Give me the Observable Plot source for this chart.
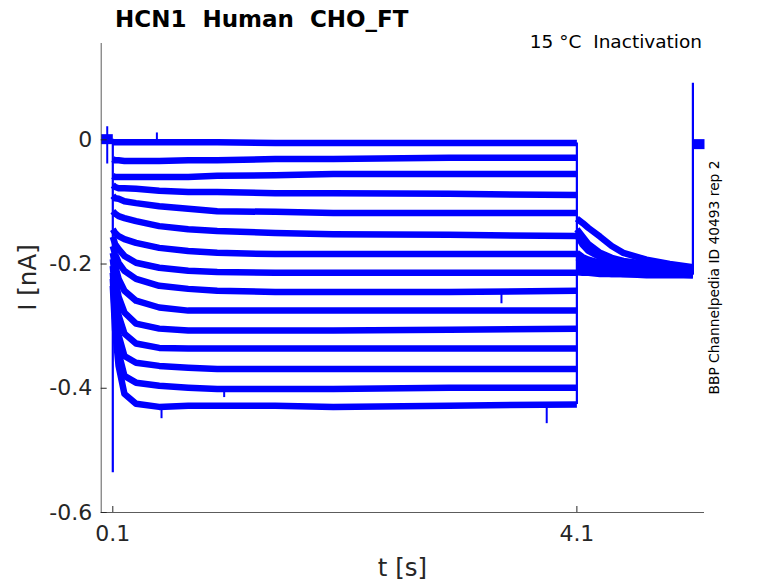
<!DOCTYPE html>
<html><head><meta charset="utf-8">
<script src="https://cdn.jsdelivr.net/npm/d3@7"></script>
<script src="https://cdn.jsdelivr.net/npm/@observablehq/plot@0.6"></script>
<style>body{margin:0;background:#fff} #chart{width:778px;height:583px}</style>
</head><body><div id="chart"></div>
<script>
// ---- axes ----
const xDomain = [0, 5.2];
const yDomain = [-0.6, 0.155];
const xTicks = [0.1, 4.1];
const yTicks = [0, -0.2, -0.4, -0.6];

// ---- holding before the prepulse (all sweeps overlap) ----
const holdPreTimes = [0, 0.1];
const holdPreCurrent = [0.001, 0.001];

// ---- prepulse (0.1 s to 4.1 s), one row per sweep ----
const stepTimes = [0.1, 0.12, 0.15, 0.2, 0.3, 0.5, 0.75, 1.0, 1.5, 2.0, 3.0, 4.1];
const stepCurrents = [
  [-0.004,-0.004,-0.004,-0.004,-0.004,-0.004,-0.004,-0.004,-0.005,-0.005,-0.005,-0.005],
  [-0.031,-0.033,-0.033,-0.034,-0.034,-0.034,-0.033,-0.033,-0.031,-0.031,-0.029,-0.029],
  [-0.058,-0.060,-0.060,-0.060,-0.060,-0.060,-0.060,-0.058,-0.057,-0.055,-0.055,-0.055],
  [-0.073,-0.076,-0.078,-0.078,-0.079,-0.082,-0.084,-0.084,-0.086,-0.086,-0.087,-0.089],
  [-0.090,-0.094,-0.095,-0.099,-0.102,-0.107,-0.111,-0.115,-0.116,-0.118,-0.118,-0.118],
  [-0.115,-0.119,-0.123,-0.126,-0.131,-0.139,-0.144,-0.147,-0.150,-0.152,-0.153,-0.155],
  [-0.144,-0.150,-0.155,-0.160,-0.166,-0.174,-0.179,-0.182,-0.184,-0.184,-0.184,-0.184],
  [-0.156,-0.168,-0.176,-0.187,-0.198,-0.206,-0.211,-0.213,-0.214,-0.214,-0.214,-0.214],
  [-0.171,-0.184,-0.198,-0.211,-0.224,-0.235,-0.240,-0.243,-0.245,-0.245,-0.245,-0.243],
  [-0.182,-0.203,-0.224,-0.243,-0.259,-0.270,-0.275,-0.275,-0.275,-0.275,-0.275,-0.275],
  [-0.192,-0.224,-0.253,-0.278,-0.296,-0.304,-0.307,-0.307,-0.307,-0.307,-0.306,-0.304],
  [-0.203,-0.246,-0.283,-0.312,-0.328,-0.335,-0.336,-0.336,-0.336,-0.336,-0.336,-0.336],
  [-0.214,-0.267,-0.315,-0.348,-0.359,-0.364,-0.367,-0.369,-0.369,-0.369,-0.369,-0.369],
  [-0.224,-0.288,-0.343,-0.380,-0.391,-0.396,-0.399,-0.401,-0.401,-0.401,-0.399,-0.399],
  [-0.235,-0.307,-0.364,-0.409,-0.425,-0.430,-0.428,-0.428,-0.428,-0.430,-0.428,-0.426]
];

// ---- test pulse (4.1 s to 5.1 s), one row per sweep ----
const testTimes = [4.1, 4.15, 4.2, 4.3, 4.4, 4.5, 4.7, 4.9, 5.1];
const testCurrents = [
  [-0.127,-0.134,-0.142,-0.156,-0.171,-0.182,-0.193,-0.200,-0.205],
  [-0.144,-0.156,-0.168,-0.182,-0.190,-0.195,-0.200,-0.203,-0.206],
  [-0.153,-0.169,-0.179,-0.189,-0.193,-0.197,-0.201,-0.205,-0.208],
  [-0.182,-0.189,-0.193,-0.198,-0.201,-0.203,-0.205,-0.206,-0.208],
  [-0.189,-0.193,-0.197,-0.200,-0.203,-0.205,-0.206,-0.208,-0.209],
  [-0.200,-0.201,-0.203,-0.205,-0.206,-0.208,-0.209,-0.211,-0.211],
  [-0.203,-0.205,-0.206,-0.208,-0.209,-0.209,-0.211,-0.211,-0.213],
  [-0.205,-0.206,-0.208,-0.209,-0.211,-0.211,-0.213,-0.213,-0.213],
  [-0.206,-0.208,-0.209,-0.211,-0.211,-0.213,-0.213,-0.214,-0.214],
  [-0.208,-0.209,-0.211,-0.211,-0.213,-0.213,-0.214,-0.214,-0.214],
  [-0.209,-0.211,-0.211,-0.213,-0.213,-0.214,-0.214,-0.214,-0.216],
  [-0.211,-0.211,-0.213,-0.213,-0.214,-0.214,-0.214,-0.216,-0.216],
  [-0.211,-0.213,-0.213,-0.214,-0.214,-0.216,-0.216,-0.216,-0.216],
  [-0.213,-0.213,-0.214,-0.214,-0.216,-0.216,-0.216,-0.216,-0.218],
  [-0.213,-0.214,-0.214,-0.216,-0.216,-0.216,-0.218,-0.218,-0.218]
];

// ---- holding after the test pulse ----
const holdPostTimes = [5.1, 5.2];
const holdPostCurrent = [-0.007, -0.007];

// ---- capacitive transients and noise glitches ----
const onsetSpike = -0.536;
const offsetSpike = 0.091;
const glitchTimes = [0.052, 0.48, 0.52, 1.06, 3.45, 3.84];
const glitchLow   = [-0.039, -0.004, -0.449, -0.415, -0.264, -0.457];
const glitchHigh  = [0.021, 0.011, -0.430, -0.401, -0.245, -0.428];

// ---- build tables ----
const stepRows = stepCurrents.flatMap((s, i) => stepTimes.map((t, j) => ({sweep: i, t, I: s[j]})));
const testRows = testCurrents.flatMap((s, i) => testTimes.map((t, j) => ({sweep: i, t, I: s[j]})));
const holdRows = [
  ...holdPreTimes.map((t, j) => ({seg: "pre", t, I: holdPreCurrent[j]})),
  ...holdPostTimes.map((t, j) => ({seg: "post", t, I: holdPostCurrent[j]}))
];
const stepStarts = stepCurrents.map(s => s[0]);
const stepEnds = stepCurrents.map(s => s[s.length - 1]);
const testStarts = testCurrents.map(s => s[0]);
const testEnds = testCurrents.map(s => s[s.length - 1]);
const transitions = [
  {t: stepTimes[0], lo: Math.min(onsetSpike, ...stepStarts), hi: holdPreCurrent[1]},
  {t: testTimes[0], lo: Math.min(...stepEnds, ...testStarts), hi: Math.max(...stepEnds, ...testStarts)},
  {t: holdPostTimes[0], lo: Math.min(...testEnds), hi: offsetSpike}
];
const glitches = glitchTimes.map((t, i) => ({t, lo: glitchLow[i], hi: glitchHigh[i]}));

const blue = "#0000ff";
const ink = "#262626";
const font = "DejaVu Sans";

const chart = Plot.plot({
  width: 778,
  height: 583,
  marginLeft: 100.7,
  marginRight: 74,
  marginTop: 43,
  marginBottom: 71,
  style: {fontFamily: font, background: "#fff", overflow: "visible"},
  x: {domain: xDomain},
  y: {domain: yDomain},
  marks: [
    Plot.line(holdRows, {x: "t", y: "I", z: "seg", stroke: blue, strokeWidth: 10, strokeLinecap: "butt"}),
    Plot.line(stepRows, {x: "t", y: "I", z: "sweep", stroke: blue, strokeWidth: 6.5, strokeLinecap: "butt"}),
    Plot.line(testRows, {x: "t", y: "I", z: "sweep", stroke: blue, strokeWidth: 6.5, strokeLinecap: "butt"}),
    Plot.ruleX(transitions, {x: "t", y1: "lo", y2: "hi", stroke: blue, strokeWidth: 2.2}),
    Plot.ruleX(glitches, {x: "t", y1: "lo", y2: "hi", stroke: blue, strokeWidth: 2}),
    Plot.ruleX([xDomain[0]], {stroke: ink, strokeWidth: 1, strokeOpacity: 0.75}),
    Plot.ruleY([yDomain[0]], {stroke: ink, strokeWidth: 1, strokeOpacity: 0.75}),
    Plot.axisX(xTicks, {tickSize: -6, tickPadding: 19, fontSize: 22, color: ink, tickFormat: d => String(d), label: null}),
    Plot.axisY(yTicks, {tickSize: -6, tickPadding: 15, fontSize: 22, color: ink, tickFormat: d => String(d), label: null})
  ]
});
document.getElementById("chart").appendChild(chart);

const svg = d3.select(chart);
svg.append("text").attr("x", 115).attr("y", 26.7).attr("text-anchor", "start")
  .attr("font-family", font).attr("font-size", 23).attr("font-weight", "bold")
  .attr("fill", "#000").style("white-space", "pre")
  .text("HCN1  Human  CHO_FT");
svg.append("text").attr("x", 702).attr("y", 48).attr("text-anchor", "end")
  .attr("font-family", font).attr("font-size", 18.5).attr("fill", "#000")
  .style("white-space", "pre").text("15 °C  Inactivation");
svg.append("text").attr("transform", "translate(718.5,277.5) rotate(-90)").attr("text-anchor", "middle")
  .attr("font-family", font).attr("font-size", 13.8).attr("fill", "#000")
  .text("BBP Channelpedia ID 40493 rep 2");
svg.append("text").attr("x", 402.4).attr("y", 576).attr("text-anchor", "middle")
  .attr("font-family", font).attr("font-size", 24.5).attr("fill", ink)
  .text("t [s]");
svg.append("text").attr("transform", "translate(35.5,277.5) rotate(-90)").attr("text-anchor", "middle")
  .attr("font-family", font).attr("font-size", 24.5).attr("fill", ink)
  .text("I [nA]");
</script>
</body></html>
